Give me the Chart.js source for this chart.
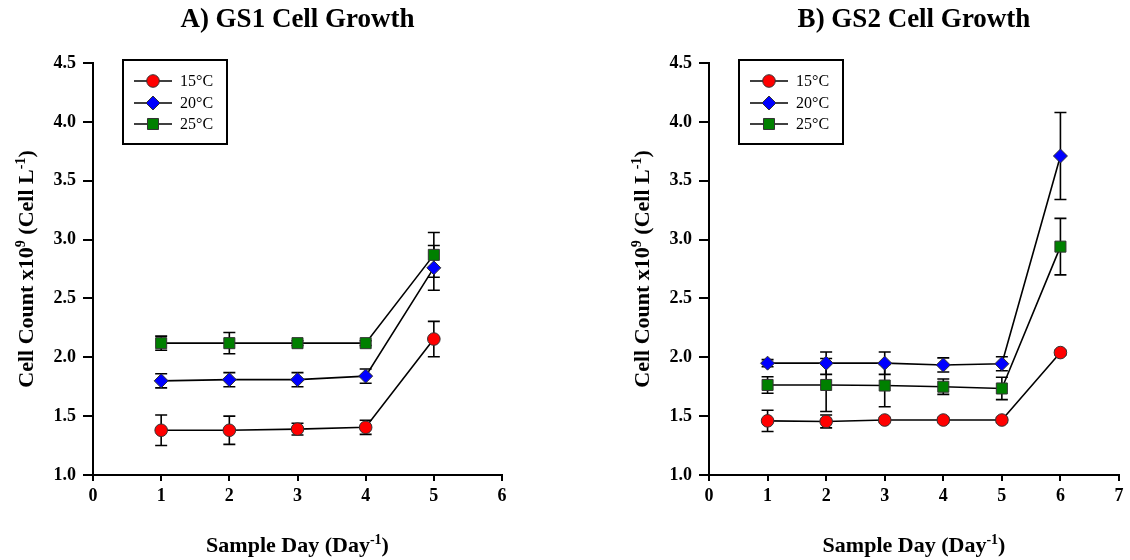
<!DOCTYPE html>
<html>
<head>
<meta charset="utf-8">
<script src="https://cdn.jsdelivr.net/npm/chart.js@4.4.1/dist/chart.umd.min.js"></script>
<style>
  html, body { margin: 0; padding: 0; background: #ffffff; }
  #wrap { position: relative; width: 1130px; height: 560px; overflow: hidden; }
  .panel { position: absolute; top: 0; width: 565px; height: 560px; }
</style>
</head>
<body>
<div id="wrap">
  <div class="panel" style="left:0"><canvas id="gs1" width="565" height="560"></canvas></div>
  <div class="panel" style="left:565px"><canvas id="gs2" width="565" height="560"></canvas></div>
</div>
<script>
// ---- series definitions ----
const seriesNames  = ['15°C', '20°C', '25°C'];
const seriesColors = ['#ff0000', '#0000ff', '#008000'];
const seriesStyles = ['circle', 'rectRot', 'rect'];
const seriesRadii  = [6.3, 7, 7.8];

// ---- GS1 (panel A): means and error (±) per sample day ----
const gs1Days   = [1, 2, 3, 4, 5];
const gs1Mean15 = [1.38, 1.38, 1.39, 1.405, 2.155];
const gs1Err15  = [0.13, 0.12, 0.05, 0.06, 0.15];
const gs1Mean20 = [1.80, 1.81, 1.81, 1.84, 2.76];
const gs1Err20  = [0.06, 0.06, 0.06, 0.06, 0.19];
const gs1Mean25 = [2.12, 2.12, 2.12, 2.12, 2.87];
const gs1Err25  = [0.06, 0.09, 0.02, 0.02, 0.19];

// ---- GS2 (panel B) ----
const gs2Days   = [1, 2, 3, 4, 5, 6];
const gs2Mean15 = [1.46, 1.455, 1.467, 1.467, 1.467, 2.04];
const gs2Err15  = [0.09, 0.055, 0.02, 0.02, 0.02, 0.02];
const gs2Mean20 = [1.95, 1.95, 1.95, 1.935, 1.945, 3.71];
const gs2Err20  = [0.03, 0.095, 0.095, 0.06, 0.06, 0.37];
const gs2Mean25 = [1.765, 1.765, 1.76, 1.75, 1.735, 2.94];
const gs2Err25  = [0.07, 0.225, 0.18, 0.065, 0.095, 0.24];

// ---- axis ticks / labels ----
const yMin = 1.0, yMax = 4.5, yStep = 0.5;
const gs1XMax = 6, gs2XMax = 7;
const titleA = 'A) GS1 Cell Growth';
const titleB = 'B) GS2 Cell Growth';
const yTitleRuns = [['Cell Count x10', false], ['9', true], [' (Cell L', false], ['-1', true], [')', false]];
const xTitleRuns = [['Sample Day (Day', false], ['-1', true], [')', false]];

const FONT = "'Liberation Serif', 'Times New Roman', Times, serif";
Chart.defaults.font.family = FONT;
Chart.defaults.color = '#000';

function drawMarker(ctx, style, x, y, r, fill) {
  ctx.save();
  ctx.beginPath();
  if (style === 'circle') {
    ctx.arc(x, y, r, 0, Math.PI * 2);
  } else if (style === 'rectRot') {
    ctx.moveTo(x - r, y); ctx.lineTo(x, y - r); ctx.lineTo(x + r, y); ctx.lineTo(x, y + r);
    ctx.closePath();
  } else {
    const s = r * Math.SQRT1_2;
    ctx.rect(x - s, y - s, 2 * s, 2 * s);
  }
  ctx.fillStyle = fill;
  ctx.fill();
  ctx.lineWidth = 1;
  ctx.strokeStyle = '#333';
  ctx.stroke();
  ctx.restore();
}

// Vertical error bars with caps, drawn under the markers
const errorBars = {
  id: 'errorBars',
  beforeDatasetsDraw(chart) {
    const ctx = chart.ctx, xs = chart.scales.x, ys = chart.scales.y;
    ctx.save();
    ctx.strokeStyle = '#000';
    ctx.lineWidth = 1.6;
    chart.data.datasets.forEach(ds => {
      ds.data.forEach((pt, j) => {
        const e = ds.errors[j];
        if (!e) return;
        const px = xs.getPixelForValue(pt.x);
        const yt = ys.getPixelForValue(pt.y + e);
        const yb = ys.getPixelForValue(pt.y - e);
        ctx.beginPath();
        ctx.moveTo(px, yt); ctx.lineTo(px, yb);
        ctx.moveTo(px - 6, yt); ctx.lineTo(px + 6, yt);
        ctx.moveTo(px - 6, yb); ctx.lineTo(px + 6, yb);
        ctx.stroke();
      });
    });
    ctx.restore();
  }
};

// Boxed legend inside the plot's upper-left corner
const boxLegend = {
  id: 'boxLegend',
  afterDraw(chart) {
    const ctx = chart.ctx, a = chart.chartArea;
    const bx = a.left + 30, by = a.top - 3, bw = 104, bh = 84;
    ctx.save();
    ctx.fillStyle = '#fff';
    ctx.fillRect(bx, by, bw, bh);
    ctx.lineWidth = 2;
    ctx.strokeStyle = '#000';
    ctx.strokeRect(bx, by, bw, bh);
    const rows = [21, 43, 64];
    chart.data.datasets.forEach((ds, i) => {
      const ry = by + rows[i];
      ctx.beginPath();
      ctx.lineWidth = 1.6;
      ctx.strokeStyle = '#000';
      ctx.moveTo(bx + 11, ry); ctx.lineTo(bx + 49, ry);
      ctx.stroke();
      drawMarker(ctx, seriesStyles[i], bx + 30, ry, seriesRadii[i], seriesColors[i]);
      ctx.fillStyle = '#000';
      ctx.font = '16px ' + FONT;
      ctx.textAlign = 'left';
      ctx.textBaseline = 'middle';
      ctx.fillText(ds.label, bx + 57, ry + 1);
    });
    ctx.restore();
  }
};

// Axis titles with superscript runs
function drawRuns(ctx, runs, cx, baseline, size, supSize, supRise) {
  const fMain = 'bold ' + size + 'px ' + FONT;
  const fSup = 'bold ' + supSize + 'px ' + FONT;
  let total = 0;
  runs.forEach(([t, sup]) => { ctx.font = sup ? fSup : fMain; total += ctx.measureText(t).width; });
  let x = cx - total / 2;
  ctx.textAlign = 'left';
  ctx.textBaseline = 'alphabetic';
  runs.forEach(([t, sup]) => {
    ctx.font = sup ? fSup : fMain;
    ctx.fillText(t, x, sup ? baseline - supRise : baseline);
    x += ctx.measureText(t).width;
  });
}

const axisTitles = {
  id: 'axisTitles',
  afterDraw(chart) {
    const ctx = chart.ctx, a = chart.chartArea;
    ctx.save();
    ctx.fillStyle = '#000';
    drawRuns(ctx, xTitleRuns, (a.left + a.right) / 2, 552, 22, 14, 8);
    ctx.translate(a.left - 60, (a.top + a.bottom) / 2);
    ctx.rotate(-Math.PI / 2);
    drawRuns(ctx, yTitleRuns, 0, 0, 22, 14, 8);
    ctx.restore();
  }
};

function makeDatasets(days, means, errs) {
  return means.map((m, i) => ({
    label: seriesNames[i],
    data: days.map((d, j) => ({ x: d, y: m[j] })),
    errors: errs[i],
    borderColor: '#000',
    borderWidth: 1.6,
    backgroundColor: seriesColors[i],
    pointStyle: seriesStyles[i],
    pointRadius: seriesRadii[i],
    pointHoverRadius: seriesRadii[i],
    pointBackgroundColor: seriesColors[i],
    pointBorderColor: '#333',
    pointBorderWidth: 1,
    tension: 0,
    fill: false
  }));
}

function makeChart(id, title, days, means, errs, xMax, yAxisWidth, padRight) {
  return new Chart(document.getElementById(id), {
    type: 'line',
    data: { datasets: makeDatasets(days, means, errs) },
    options: {
      responsive: false,
      animation: false,
      devicePixelRatio: 1,
      layout: { padding: { left: 0, right: padRight, top: 0, bottom: 0 } },
      plugins: {
        legend: { display: false },
        tooltip: { enabled: false },
        title: {
          display: true, text: title, fullSize: false, color: '#000',
          font: { size: 27, weight: 'bold' },
          padding: { top: 4, bottom: 26.6 }
        }
      },
      scales: {
        x: {
          type: 'linear', min: 0, max: xMax,
          afterFit(s) { s.height = 85; },
          ticks: { stepSize: 1, padding: 5, color: '#000', font: { size: 18, weight: 'bold' } },
          grid: { drawOnChartArea: false, drawTicks: true, tickLength: 6, color: '#000', lineWidth: 2 },
          border: { display: true, color: '#000', width: 2 }
        },
        y: {
          type: 'linear', min: yMin, max: yMax,
          afterFit(s) { s.width = yAxisWidth; },
          ticks: { stepSize: yStep, padding: 7, color: '#000', font: { size: 18, weight: 'bold' },
                   callback: v => Number(v).toFixed(1) },
          grid: { drawOnChartArea: false, drawTicks: true, tickLength: 10, color: '#000', lineWidth: 2 },
          border: { display: true, color: '#000', width: 2 }
        }
      }
    },
    plugins: [errorBars, boxLegend, axisTitles]
  });
}

makeChart('gs1', titleA, gs1Days,
  [gs1Mean15, gs1Mean20, gs1Mean25], [gs1Err15, gs1Err20, gs1Err25], gs1XMax, 93, 63);
makeChart('gs2', titleB, gs2Days,
  [gs2Mean15, gs2Mean20, gs2Mean25], [gs2Err15, gs2Err20, gs2Err25], gs2XMax, 144, 11);
</script>
</body>
</html>
